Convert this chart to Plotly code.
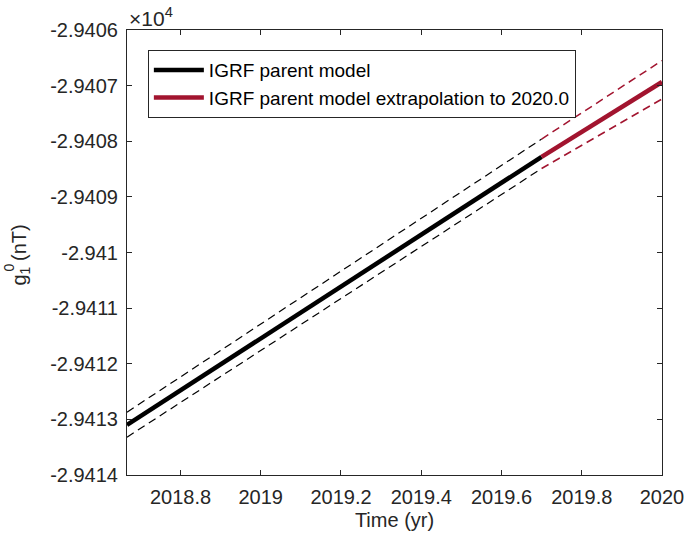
import plotly.graph_objects as go

# Data
t_parent = [2018.6667, 2019.70]
g_parent = [-29413.10, -29408.28]
g_parent_upper = [-29412.87, -29407.96]
g_parent_lower = [-29413.32, -29408.49]

t_extrap = [2019.70, 2020.0]
g_extrap = [-29408.28, -29406.935]
g_extrap_upper = [-29407.96, -29406.55]
g_extrap_lower = [-29408.49, -29407.24]

x_ticks = [2018.8, 2019.0, 2019.2, 2019.4, 2019.6, 2019.8, 2020.0]
x_ticktext = ["2018.8", "2019", "2019.2", "2019.4", "2019.6", "2019.8", "2020"]
y_ticks = [-29414, -29413, -29412, -29411, -29410, -29409, -29408, -29407, -29406]
y_ticktext = ["-2.9414", "-2.9413", "-2.9412", "-2.9411", "-2.941",
              "-2.9409", "-2.9408", "-2.9407", "-2.9406"]

RED = "#A2142F"
FONT = "Arial, Liberation Sans, sans-serif"
TXT = "#262626"

fig = go.Figure()
fig.add_trace(go.Scatter(x=t_parent, y=g_parent_upper, mode="lines",
                         line=dict(color="black", width=1.2, dash="8px,5px"),
                         showlegend=False, hoverinfo="skip"))
fig.add_trace(go.Scatter(x=t_parent, y=g_parent_lower, mode="lines",
                         line=dict(color="black", width=1.2, dash="8px,5px"),
                         showlegend=False, hoverinfo="skip"))
fig.add_trace(go.Scatter(x=t_extrap, y=g_extrap_upper, mode="lines",
                         line=dict(color=RED, width=1.5, dash="8px,5px"),
                         showlegend=False, hoverinfo="skip"))
fig.add_trace(go.Scatter(x=t_extrap, y=g_extrap_lower, mode="lines",
                         line=dict(color=RED, width=1.5, dash="8px,5px"),
                         showlegend=False, hoverinfo="skip"))
fig.add_trace(go.Scatter(x=t_parent, y=g_parent, mode="lines",
                         line=dict(color="black", width=4.5),
                         name="IGRF parent model"))
fig.add_trace(go.Scatter(x=t_extrap, y=g_extrap, mode="lines",
                         line=dict(color=RED, width=4.5),
                         name="IGRF parent model extrapolation to 2020.0"))

axis_common = dict(showline=True, linecolor=TXT, linewidth=1,
                   mirror="ticks", ticks="inside", ticklen=5, tickcolor=TXT,
                   showgrid=False, zeroline=False, automargin=False,
                   tickfont=dict(family=FONT, size=20, color=TXT))

fig.update_xaxes(range=[2018.6667, 2020.0], tickvals=x_ticks, ticktext=x_ticktext,
                 ticklabelstandoff=4,
                 title=dict(text="Time (yr)", font=dict(family=FONT, size=20, color=TXT),
                            standoff=5),
                 **axis_common)
fig.update_yaxes(range=[-29414, -29406], tickvals=y_ticks, ticktext=y_ticktext,
                 ticklabelstandoff=4,
                 **axis_common)

# exponent label
fig.add_annotation(xref="paper", yref="paper", x=0, y=1, xanchor="left", yanchor="bottom",
                   text="\u00d710<sup>4</sup>", showarrow=False, yshift=-2,
                   font=dict(family=FONT, size=21, color=TXT))

# y-axis label with stacked sub/superscript
fig.add_annotation(xref="paper", yref="paper", x=0, y=0.5, xanchor="center", yanchor="middle",
                   xshift=-107, yshift=-3, textangle=-90, showarrow=False,
                   text="g<sub>1</sub> (nT)",
                   font=dict(family=FONT, size=20, color=TXT))
fig.add_annotation(xref="paper", yref="paper", x=0, y=0.5, xanchor="center", yanchor="middle",
                   xshift=-119, yshift=-15, textangle=-90, showarrow=False,
                   text="0",
                   font=dict(family=FONT, size=14, color=TXT))

fig.update_layout(
    width=685, height=543,
    margin=dict(l=127, r=23, t=30, b=68),
    plot_bgcolor="white", paper_bgcolor="white",
    font=dict(family=FONT, color=TXT),
    legend=dict(x=0.039, y=0.955, xanchor="left", yanchor="top",
                bgcolor="white", bordercolor=TXT, borderwidth=1,
                font=dict(family=FONT, size=19, color="black"),
                tracegroupgap=0, itemwidth=50),
)

fig.write_html("out.html", config={"displayModeBar": False},
               post_script="document.body.style.margin='0';document.body.style.overflow='hidden';")
